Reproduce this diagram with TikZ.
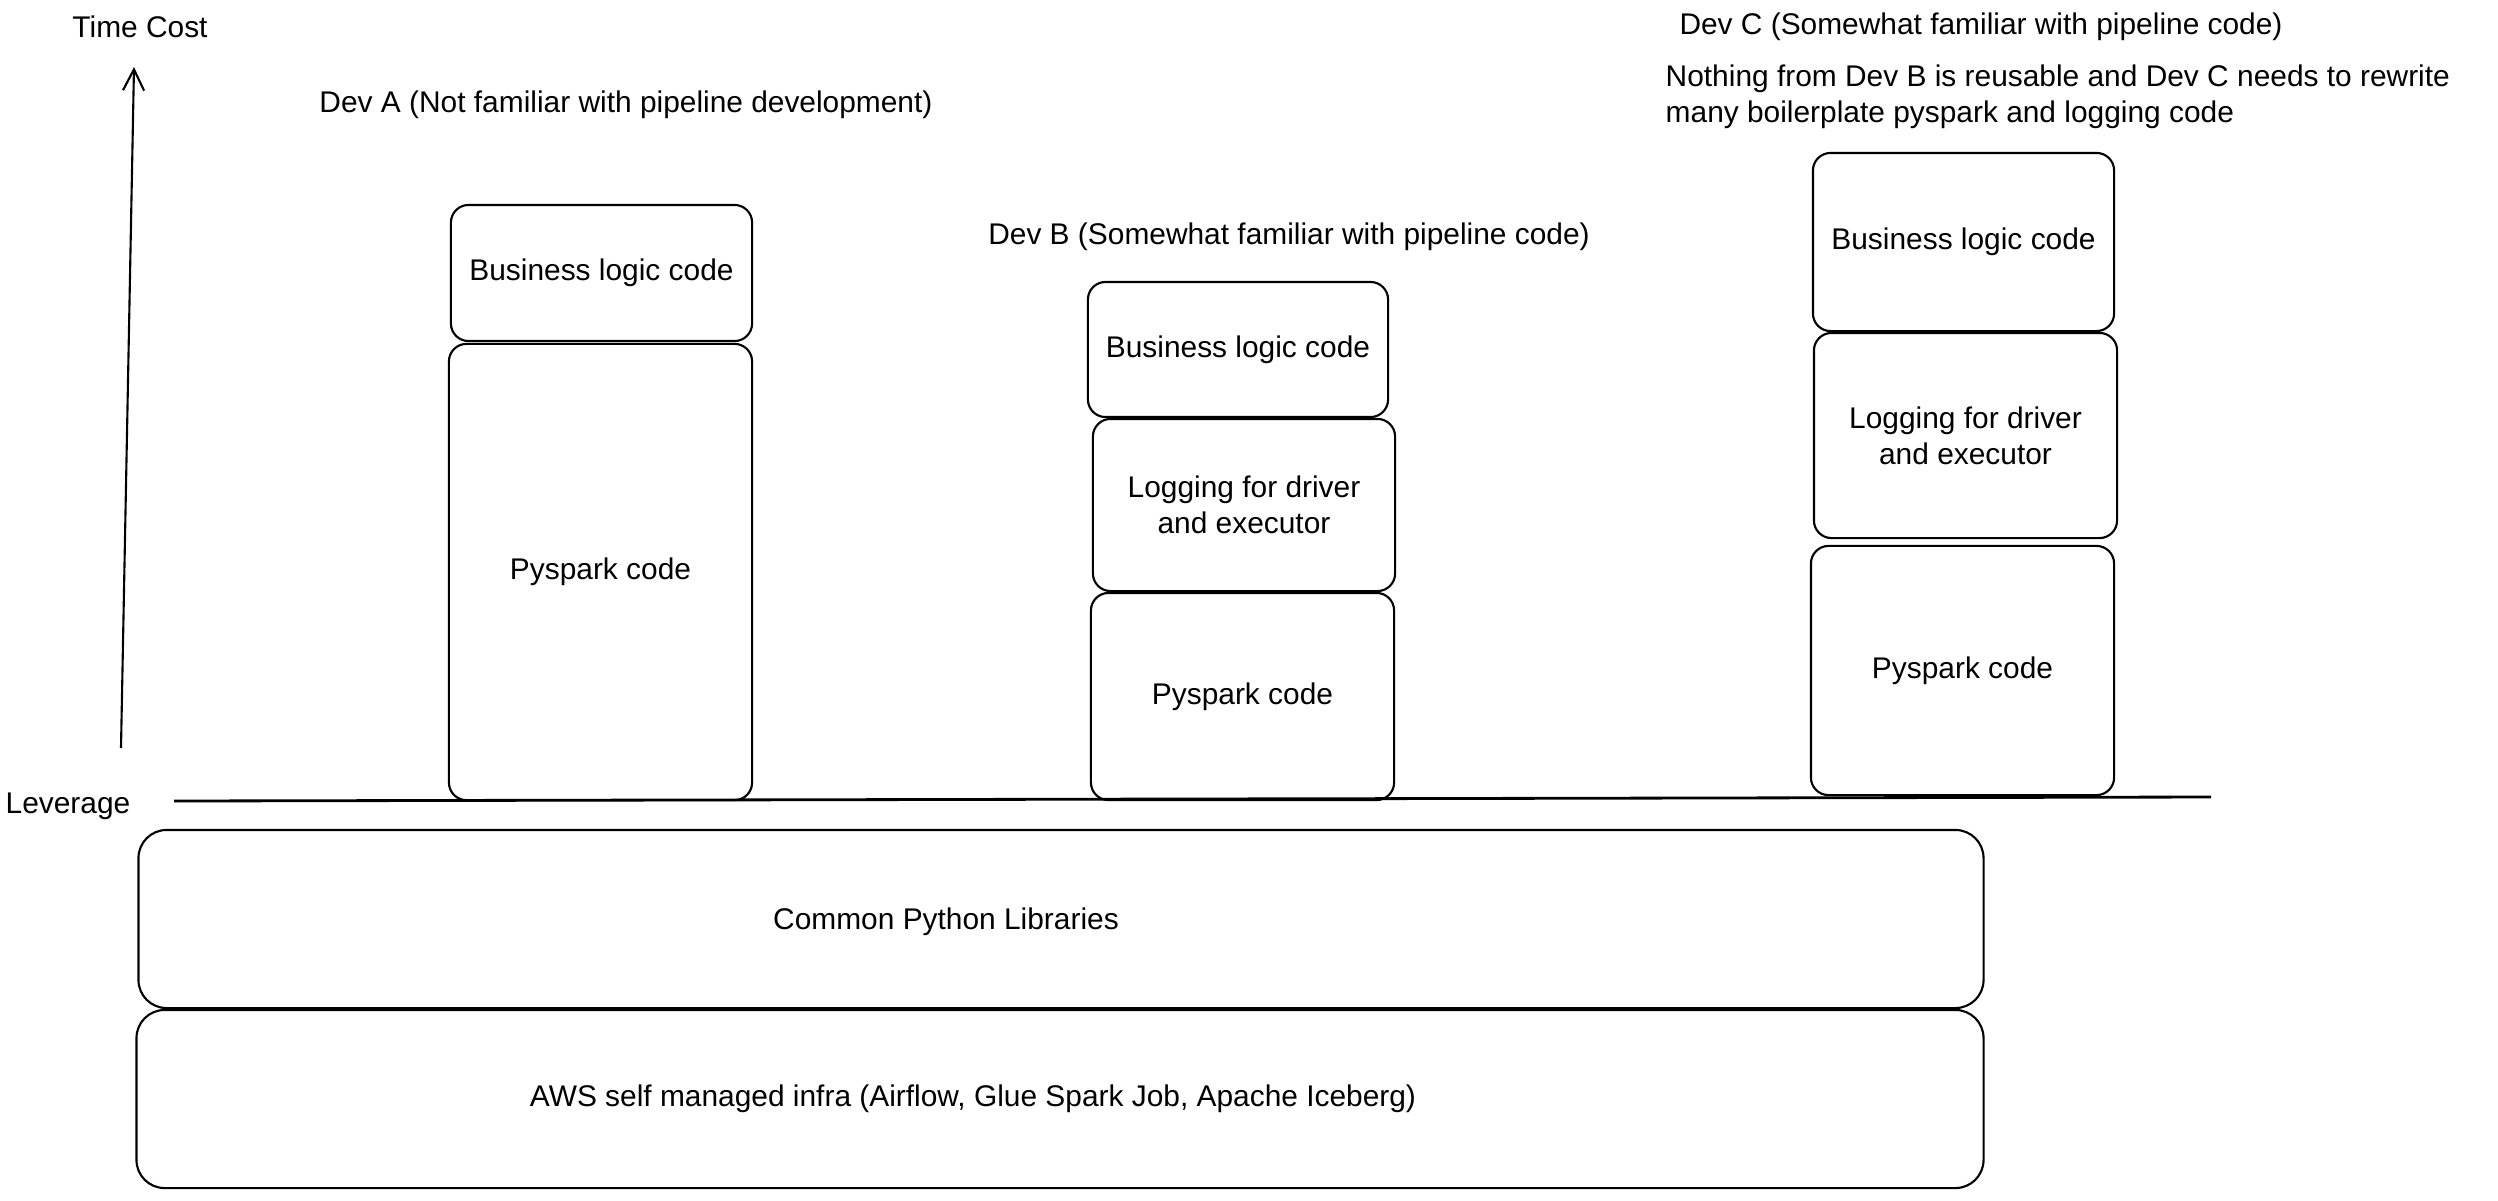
\documentclass[tikz,border=0pt]{standalone}
\usepackage{fontspec}
\setmainfont{Liberation Sans}
\usetikzlibrary{arrows.meta}
\begin{document}
\begin{tikzpicture}[x=0.01cm,y=-0.01cm,
  txt/.style={font=\fontsize{8.5}{10.2}\selectfont, text=black, inner sep=0pt},
  stackbox/.style={draw=black, line width=0.6pt, rounded corners=5pt, align=center, txt},
  basebox/.style={draw=black, line width=0.6pt, rounded corners=8pt},
  axisline/.style={draw=black, line width=0.6pt},
]
\useasboundingbox[fill=white] (0,0) rectangle (2498,1200);

% axis
\coordinate (axbot) at (121,748);
\coordinate (axtop) at (134,67);
\draw[axisline, -{Straight Barb[length=6pt,width=6pt]}] (axbot) -- (axtop);
\node[txt] (timecost) at (140,27) {Time Cost};
\node[txt] (leverage) at (68,806) {Leverage};
\coordinate (levL) at (174,801);
\coordinate (levR) at (2211,797);
\draw[draw=black, line width=0.8pt] (levL) -- (levR);

% Dev labels
\node[txt] (devA) at (626,105) {Dev A (Not familiar with pipeline development)};
\node[txt] (devB) at (1289,237) {Dev B (Somewhat familiar with pipeline code)};
\node[txt] (devC) at (1981,27) {Dev C (Somewhat familiar with pipeline code)};
\node[txt, anchor=north west, align=left] (note) at (1665,64) {Nothing from Dev B is reusable and Dev C needs to rewrite\\many boilerplate pyspark and logging code};

% Dev A stack
\node[stackbox, minimum width=3.01cm, minimum height=1.36cm] (a1) at (601.5,273) {Business logic code};
\node[stackbox, minimum width=3.03cm, minimum height=4.56cm] (a2) at (600.5,572) {Pyspark code};

% Dev B stack
\node[stackbox, minimum width=3.00cm, minimum height=1.35cm] (b1) at (1238,349.5) {Business logic code};
\node[stackbox, minimum width=3.02cm, minimum height=1.72cm] (b2) at (1244,505) {Logging for driver\\and executor};
\node[stackbox, minimum width=3.03cm, minimum height=2.07cm] (b3) at (1242.5,696.5) {Pyspark code};

% Dev C stack
\node[stackbox, minimum width=3.01cm, minimum height=1.78cm] (c1) at (1963.5,242) {Business logic code};
\node[stackbox, minimum width=3.03cm, minimum height=2.05cm] (c2) at (1965.5,435.5) {Logging for driver\\and executor};
\node[stackbox, minimum width=3.03cm, minimum height=2.49cm] (c3) at (1962.5,670.5) {Pyspark code};

% base layers
\node[basebox, minimum width=18.44cm, minimum height=1.78cm] (common) at (1061,919) {};
\node[txt] (commontxt) at (946,922) {Common Python Libraries};
\node[basebox, minimum width=18.46cm, minimum height=1.78cm] (aws) at (1060,1099) {};
\node[txt] (awstxt) at (973,1099) {AWS self managed infra (Airflow, Glue Spark Job, Apache Iceberg)};
\end{tikzpicture}
\end{document}
